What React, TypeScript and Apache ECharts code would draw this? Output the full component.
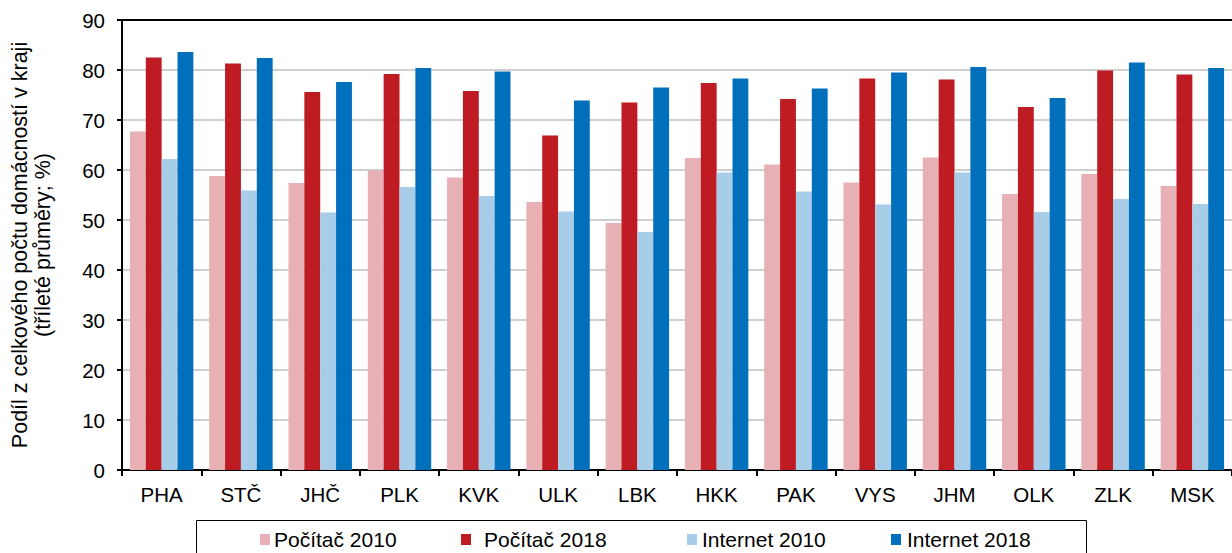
import React, { useEffect, useRef } from "react";
import * as echarts from "echarts";

const categories = ["PHA", "STČ", "JHČ", "PLK", "KVK", "ULK", "LBK", "HKK", "PAK", "VYS", "JHM", "OLK", "ZLK", "MSK"];
const pocitac2010 = [67.7, 58.8, 57.4, 59.9, 58.5, 53.6, 49.4, 62.4, 61.1, 57.5, 62.5, 55.2, 59.2, 56.8];
const pocitac2018 = [82.5, 81.3, 75.6, 79.2, 75.8, 66.9, 73.5, 77.4, 74.2, 78.3, 78.1, 72.6, 79.9, 79.1];
const internet2010 = [62.2, 55.9, 51.5, 56.6, 54.8, 51.7, 47.6, 59.5, 55.7, 53.1, 59.5, 51.6, 54.2, 53.2];
const internet2018 = [83.6, 82.4, 77.6, 80.4, 79.7, 73.9, 76.5, 78.3, 76.3, 79.5, 80.6, 74.4, 81.5, 80.4];
const seriesNames = ["Počítač 2010", "Počítač 2018", "Internet 2010", "Internet 2018"];
const colors = ["#E7B0B4", "#BE1B23", "#A8CDE8", "#0070BD"];
const yAxisTitle = "Podíl z celkového počtu domácností v kraji\n(tříleté průměry; %)";

const FONT = "'Liberation Sans', Arial, sans-serif";

export default function App() {
  const ref = useRef<HTMLDivElement>(null);
  useEffect(() => {
    if (!ref.current) return;
    const chart = echarts.init(ref.current, undefined, { renderer: "svg" });
    const data = [pocitac2010, pocitac2018, internet2010, internet2018];
    const legendLefts = [260, 461, 687, 891];
    const legendTextPad = [-1, 8, 0, 1];
    chart.setOption({
      animation: false,
      backgroundColor: "#ffffff",
      textStyle: { fontFamily: FONT },
      grid: { left: 122, top: 20, width: 1120, height: 450, containLabel: false },
      legend: seriesNames.map((n, i) => ({
        data: [n],
        left: legendLefts[i],
        top: 529,
        padding: 0,
        itemWidth: 10,
        itemHeight: 11,
        itemGap: 0,
        icon: "rect",
        textStyle: { fontFamily: FONT, fontSize: 21, color: "#000", padding: [0, 0, 0, legendTextPad[i]] },
      })),
      xAxis: [
        {
          type: "category",
          data: categories,
          axisLine: { lineStyle: { color: "#000", width: 2 } },
          axisTick: { show: true, length: 6, lineStyle: { color: "#000", width: 2 } },
          axisLabel: { color: "#000", fontSize: 20.5, fontFamily: FONT, margin: 14 },
        },
        {
          type: "category",
          data: categories,
          position: "top",
          axisLine: { show: true, lineStyle: { color: "#000", width: 2 } },
          axisTick: { show: false },
          axisLabel: { show: false },
        },
      ],
      yAxis: {
        type: "value",
        min: 0,
        max: 90,
        interval: 10,
        axisLine: { show: true, lineStyle: { color: "#000", width: 2 } },
        axisTick: { show: true, length: 5, lineStyle: { color: "#000", width: 2 } },
        axisLabel: { color: "#000", fontSize: 20.5, fontFamily: FONT, margin: 17 },
        splitLine: { show: true, lineStyle: { color: "#cfcfcf", width: 2 } },
      },
      graphic: [
        {
          type: "text",
          x: 31,
          y: 245,
          rotation: Math.PI / 2,
          style: {
            text: yAxisTitle,
            fontFamily: FONT,
            fontSize: 21.5,
            lineHeight: 23,
            fill: "#000",
            align: "center",
            verticalAlign: "middle",
          },
        },
        {
          type: "rect",
          shape: { x: 196.5, y: 520.5, width: 890, height: 60 },
          style: { fill: "none", stroke: "#000", lineWidth: 1 },
          z: -1,
        },
      ],
      series: seriesNames.map((n, i) => ({
        name: n,
        type: "bar",
        data: data[i],
        barGap: "0%",
        barCategoryGap: "20%",
        itemStyle: { color: colors[i] },
      })),
    });
    return () => chart.dispose();
  }, []);
  return (
    <div
      ref={ref}
      style={{ position: "fixed", left: 0, top: 0, width: 1232, height: 553, background: "#fff" }}
    />
  );
}
